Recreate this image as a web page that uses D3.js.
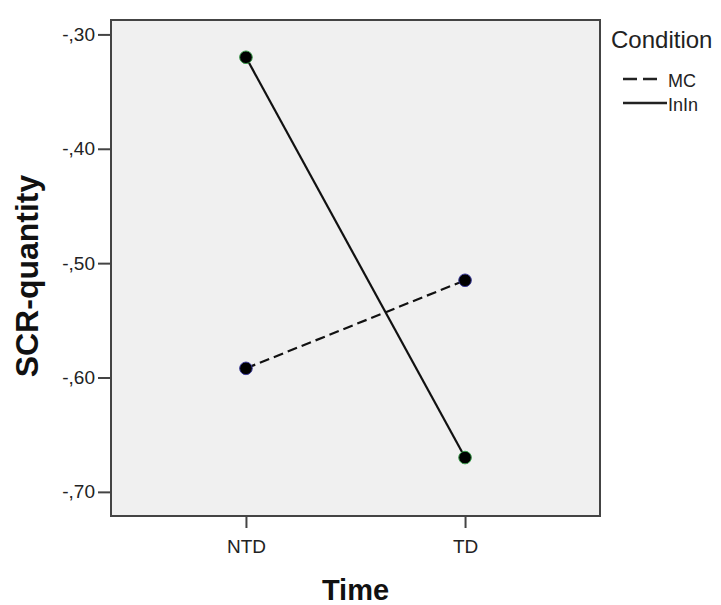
<!DOCTYPE html>
<html><head><meta charset="utf-8">
<script src="https://cdn.jsdelivr.net/npm/d3@7"></script>
<style>body{margin:0;background:#fff;} svg{display:block;font-family:"Liberation Sans",Arial,sans-serif;}</style>
</head><body>
<script>
const categories = ["NTD", "TD"];
const seriesNames = ["MC", "InIn"];
const mcValues = [-0.592, -0.515];
const ininValues = [-0.320, -0.670];
const yTicks = [-0.30, -0.40, -0.50, -0.60, -0.70];
const yTickLabels = ["-,30", "-,40", "-,50", "-,60", "-,70"];

const W = 721, H = 605;
const svg = d3.select("body").append("svg").attr("width", W).attr("height", H);
const pLeft = 111, pRight = 600, pTop = 20, pBottom = 516;
const FONT = "Liberation Sans, Arial, sans-serif";

const x = d3.scalePoint().domain(categories).range([pLeft, pRight]).padding(0.616);
const y = d3.scaleLinear().domain([-0.2874, -0.7211]).range([pTop, pBottom]);

svg.append("rect").attr("x", pLeft).attr("y", pTop).attr("width", pRight-pLeft).attr("height", pBottom-pTop)
  .attr("fill", "#f0f0f0").attr("stroke", "#444").attr("stroke-width", 2);

// y axis
const yAxis = svg.append("g").attr("transform", `translate(${pLeft},0)`)
  .call(d3.axisLeft(y).tickValues(yTicks).tickSize(13).tickFormat((d,i)=>yTickLabels[i]));
yAxis.select(".domain").remove();
yAxis.selectAll("line").attr("stroke", "#444").attr("stroke-width", 2);
yAxis.selectAll("text").attr("font-size", 19).attr("fill", "#222").attr("font-family", FONT).attr("x", -16);

const xAxis = svg.append("g").attr("transform", `translate(0,${pBottom})`)
  .call(d3.axisBottom(x).tickSize(12));
xAxis.select(".domain").remove();
xAxis.selectAll("line").attr("stroke", "#444").attr("stroke-width", 2);
xAxis.selectAll("text").attr("font-size", 19).attr("fill", "#222").attr("font-family", FONT).attr("y", 37).attr("dy", 0);

// lines
const line = d3.line().x((d,i)=>x(categories[i])).y(d=>y(d));
svg.append("path").datum(mcValues).attr("d", line).attr("fill","none").attr("stroke","#111").attr("stroke-width",2.2).attr("stroke-dasharray","10,5");
svg.append("path").datum(ininValues).attr("d", line).attr("fill","none").attr("stroke","#111").attr("stroke-width",2.2);

// points
svg.selectAll(".mcpt").data(mcValues).enter().append("circle")
  .attr("cx",(d,i)=>x(categories[i])).attr("cy",d=>y(d)).attr("r",6.3)
  .attr("fill","#000").attr("stroke","#3a3a9a").attr("stroke-width",1);
svg.selectAll(".inpt").data(ininValues).enter().append("circle")
  .attr("cx",(d,i)=>x(categories[i])).attr("cy",d=>y(d)).attr("r",6.3)
  .attr("fill","#000").attr("stroke","#3a9a4a").attr("stroke-width",1);

// axis titles
svg.append("text").attr("x", (pLeft+pRight)/2).attr("y", 600).attr("text-anchor","middle")
  .attr("font-size", 29).attr("font-weight","bold").attr("fill","#111").text("Time");
svg.append("text").attr("transform", `translate(38,276) rotate(-90)`).attr("text-anchor","middle")
  .attr("font-size", 32).attr("font-weight","bold").attr("fill","#111").text("SCR-quantity");

// legend
svg.append("text").attr("x", 611).attr("y", 48).attr("font-size", 24).attr("fill","#222").text("Condition");
const lg = [{name: seriesNames[0], dash:"14,6", y:79, x2:658},{name: seriesNames[1], dash:null, y:103, x2:667}];
lg.forEach(l=>{
  svg.append("line").attr("x1",623).attr("x2", l.x2).attr("y1",l.y).attr("y2",l.y)
    .attr("stroke","#222").attr("stroke-width",2.5).attr("stroke-dasharray", l.dash);
  svg.append("text").attr("x", 668).attr("y", l.y+8).attr("font-size",18).attr("fill","#222").text(l.name);
});
</script>
</body></html>
